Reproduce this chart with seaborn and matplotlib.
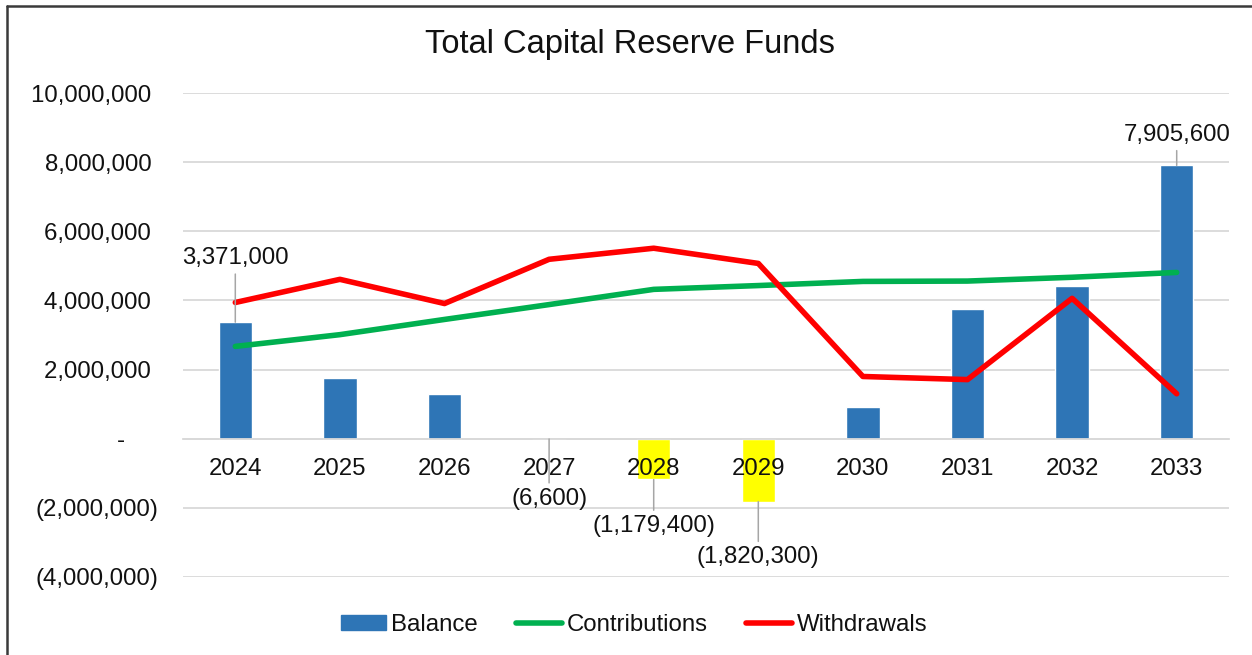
import numpy as np
import pandas as pd
import matplotlib
matplotlib.use("Agg")
import matplotlib.pyplot as plt
from matplotlib.lines import Line2D
from matplotlib.patches import Patch
from matplotlib.ticker import FuncFormatter, FixedLocator
import seaborn as sns

# ---- data ----
years = ["2024", "2025", "2026", "2027", "2028", "2029", "2030", "2031", "2032", "2033"]
balance = [3371000, 1770000, 1300000, -6600, -1179400, -1820300, 930000, 3740000, 4410000, 7905600]
contributions = [2670000, 3010000, 3450000, 3880000, 4320000, 4430000, 4550000, 4560000, 4670000, 4810000]
withdrawals = [3940000, 4610000, 3910000, 5190000, 5510000, 5070000, 1800000, 1710000, 4060000, 1300000]
labelled_years = ["2024", "2027", "2028", "2029", "2033"]
y_ticks = [-4000000, -2000000, 0, 2000000, 4000000, 6000000, 8000000, 10000000]

BLUE = "#2E75B6"
YELLOW = "#FFFF00"
GREEN = "#00B050"
RED = "#FF0000"
GRID = "#D9D9D9"
TEXT = "#111111"

sns.set_theme(style="white")
plt.rcParams["font.family"] = ["Liberation Sans", "DejaVu Sans"]
FS = 17.3

df = pd.DataFrame({"year": years, "pos": np.arange(len(years)),
                   "balance": balance, "contributions": contributions,
                   "withdrawals": withdrawals})

fig = plt.figure(figsize=(12.52, 6.55), dpi=100)
ax = fig.add_axes([183 / 1252, 1 - 577 / 655, (1229 - 183) / 1252, (577 - 93) / 655])

# balance bars: blue when in reserve, yellow when in deficit
bar_colors = [BLUE if v >= 0 else YELLOW for v in balance]
sns.barplot(data=df, x="year", y="balance", hue="year", palette=bar_colors,
            dodge=False, legend=False, width=0.32, saturation=1, ax=ax, zorder=1)

sns.lineplot(data=df, x="pos", y="contributions", color=GREEN, lw=4,
             ax=ax, zorder=2, solid_capstyle="round")
sns.lineplot(data=df, x="pos", y="withdrawals", color=RED, lw=4,
             ax=ax, zorder=2, solid_capstyle="round")

ax.set_xlim(-0.5, len(years) - 0.5)
ax.set_ylim(-4000000, 10000000)
ax.set_xlabel("")
ax.set_ylabel("")


def acct(v, _=None):
    """Accounting style: commas, negatives in parentheses, zero as a dash."""
    if v == 0:
        return "-     "
    if v < 0:
        return f"({abs(v):,.0f})"
    return f"{v:,.0f} "


ax.yaxis.set_major_locator(FixedLocator(y_ticks))
ax.yaxis.set_major_formatter(FuncFormatter(acct))
ax.grid(axis="y", color=GRID, lw=1.3)
ax.grid(axis="x", visible=False)
ax.yaxis.set_zorder(0.5)
ax.xaxis.set_zorder(3)

for s in ["top", "right", "left"]:
    ax.spines[s].set_visible(False)
ax.spines["bottom"].set_position(("data", 0))
ax.spines["bottom"].set_color(GRID)
ax.spines["bottom"].set_linewidth(1.3)

ax.set_xticks(range(len(years)))
ax.set_xticklabels(years)
ax.tick_params(axis="x", length=0, pad=14, labelsize=FS, labelcolor=TEXT)
ax.tick_params(axis="y", length=0, pad=18, labelsize=FS, labelcolor=TEXT)

# data labels with leader lines
offsets = {"2024": 38, "2027": -35, "2028": -25.5, "2029": -32, "2033": 14}
for i, (yr, v) in enumerate(zip(years, balance)):
    if yr not in labelled_years:
        continue
    off = offsets[yr]
    ax.annotate(acct(v).strip(), xy=(i, v), xytext=(0, off), textcoords="offset points",
                ha="center", va="bottom" if off > 0 else "top", fontsize=FS, color=TEXT,
                zorder=6,
                arrowprops=dict(arrowstyle="-", color="#A6A6A6", lw=1.1,
                                shrinkA=1, shrinkB=0))

fig.text(0.503, 1 - 45 / 655, "Total Capital Reserve Funds", ha="center", va="center",
         fontsize=23.5, color=TEXT)

handles = [Patch(facecolor=BLUE, edgecolor=BLUE),
           Line2D([], [], color=GREEN, lw=4),
           Line2D([], [], color=RED, lw=4)]
fig.legend(handles, ["Balance", "Contributions", "Withdrawals"], loc="center",
           bbox_to_anchor=(634 / 1252, 1 - 625 / 655), ncol=3, frameon=False,
           fontsize=FS, handlelength=1.9, handleheight=0.55, handletextpad=0.2,
           columnspacing=1.6, labelcolor=TEXT)

# outer frame (left and top edges)
fig.add_artist(Line2D([7 / 1252, 7 / 1252], [0, 1 - 6 / 655], color="#3a3a3a", lw=1.8))
fig.add_artist(Line2D([7 / 1252, 1], [1 - 6 / 655, 1 - 6 / 655], color="#3a3a3a", lw=1.8))

fig.savefig("out.png", dpi=100)
